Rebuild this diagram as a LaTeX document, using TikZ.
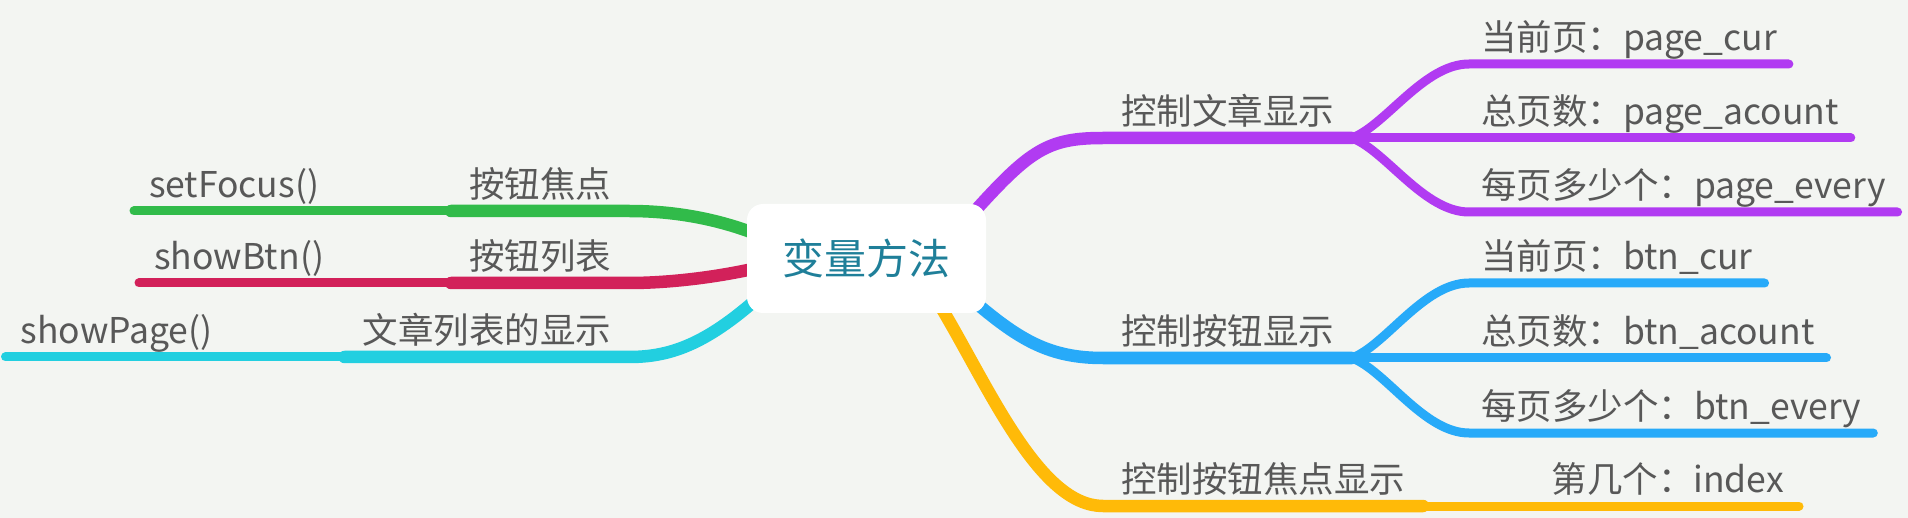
\documentclass[tikz,border=0pt]{standalone}
\usepackage{fontspec}
\setmainfont{Noto Sans CJK SC}
\usepackage{tikz}
\usetikzlibrary{calc}
\definecolor{bgpaper}{HTML}{F3F5F2}
\definecolor{cgreen}{HTML}{31BB4A}
\definecolor{cred}{HTML}{D2215A}
\definecolor{ccyan}{HTML}{22CFE0}
\definecolor{cpurple}{HTML}{B13BF2}
\definecolor{cblue}{HTML}{27AAF9}
\definecolor{cyellow}{HTML}{FFBA08}
\definecolor{txtgray}{HTML}{585858}
\definecolor{rootteal}{HTML}{1F7F99}
\pgfdeclarelayer{bg}
\pgfsetlayers{bg,main}
\tikzset{
	rootbox/.style={fill=white, rounded corners=16pt, minimum width=239pt, minimum height=109pt, text=rootteal, font=\fontsize{42}{48}\selectfont},
	topic/.style={text=txtgray, font=\fontsize{35.5}{40}\selectfont, inner xsep=18pt, inner ysep=13.5pt, text height=28pt, text depth=0pt, outer sep=0pt},
	leaf/.style={topic, inner xsep=15pt, align=left},
	subtopic/.style={topic, inner xsep=12pt, anchor=south west},
	mainline/.style={line width=12.5pt, line cap=round},
	subline/.style={line width=9pt, line cap=round}
}

\begin{document}
\begin{tikzpicture}[x=1pt,y=-1pt]
			%%%%% START %%%%%
			\useasboundingbox (0,0) rectangle (1908,518);
			\node[rootbox] (root) at (866.5,258.5) {变量方法};
			
			% right side
			\node[topic,anchor=south west] (wz) at (1103,138) {控制文章显示};
			\node[subtopic] (pcur) at (1469,64) {当前页：page\_cur};
			\node[subtopic] (pacnt) at (1469,138) {总页数：page\_acount};
			\node[subtopic] (pevery) at (1469,212) {每页多少个：page\_every};
			
			\node[topic,anchor=south west] (an) at (1103,358) {控制按钮显示};
			\node[subtopic] (bcur) at (1469,283) {当前页：btn\_cur};
			\node[subtopic] (bacnt) at (1469,358) {总页数：btn\_acount};
			\node[subtopic] (bevery) at (1469,433) {每页多少个：btn\_every};
			
			\node[topic,anchor=south west] (jd) at (1103,506) {控制按钮焦点显示};
			\node[leaf,anchor=south east] (idx) at (1799,506) {第几个：index};
			
			% left side
			\node[topic,anchor=south east] (fo) at (629,211) {按钮焦点};
			\node[leaf,anchor=south east,text width=287pt] (sf) at (fo.south west) {setFocus()};
			
			\node[topic,anchor=south east] (lb) at (629,283) {按钮列表};
			\node[leaf,anchor=south east,text width=282pt] (sb) at (lb.south west) {showBtn()};
			
			\node[topic,anchor=south east] (wl) at (629,357) {文章列表的显示};
			\node[leaf,anchor=south east,text width=309pt] (sp) at (wl.south west) {showPage()};
			
			\begin{pgfonlayer}{bg}
			\fill[bgpaper] (0,0) rectangle (1908,518);
			
			\draw[mainline,cpurple] ($(root.north east)+(-12,8)$) .. controls +(56,-62) and +(-55,0) .. (wz.south west) -- (wz.south east);
			\draw[subline,cpurple] (wz.south east) .. controls +(34,-13) and +(-45,0) .. (pcur.south west) -- (pcur.south east);
			\draw[subline,cpurple] (wz.south east) -- (pacnt.south west) -- (pacnt.south east);
			\draw[subline,cpurple] (wz.south east) .. controls +(34,13) and +(-45,0) .. (pevery.south west) -- (pevery.south east);
			
			\draw[mainline,cblue] ($(root.south east)+(-10,-10)$) .. controls +(44,37) and +(-53,0) .. (an.south west) -- (an.south east);
			\draw[subline,cblue] (an.south east) .. controls +(34,-13) and +(-45,0) .. (bcur.south west) -- (bcur.south east);
			\draw[subline,cblue] (an.south east) -- (bacnt.south west) -- (bacnt.south east);
			\draw[subline,cblue] (an.south east) .. controls +(34,13) and +(-45,0) .. (bevery.south west) -- (bevery.south east);
			
			\draw[mainline,cyellow] ($(root.south east)+(-44,-4)$) .. controls +(48,81) and +(-63,0) .. (jd.south west) -- (jd.south east);
			\draw[subline,cyellow] (jd.south east) -- (idx.south west) -- (idx.south east);
			
			\draw[mainline,cgreen] ($(root.west)+(8,-25)$) .. controls +(-50,-19) and +(31,0) .. (fo.south east) -- (fo.south west);
			\draw[subline,cgreen] (fo.south west) -- (sf.south west);
			
			\draw[mainline,cred] ($(root.west)+(8,10)$) .. controls +(-45,10) and +(35,0) .. (lb.south east) -- (lb.south west);
			\draw[subline,cred] (lb.south west) -- (sb.south west);
			
			\draw[mainline,ccyan] ($(root.south west)+(12,-16)$) .. controls +(-54,48) and +(40,0) .. (wl.south east) -- (wl.south west);
			\draw[subline,ccyan] (wl.south west) -- (sp.south west);
			\end{pgfonlayer}
			%%%%% END %%%%%
\end{tikzpicture}
\end{document}
